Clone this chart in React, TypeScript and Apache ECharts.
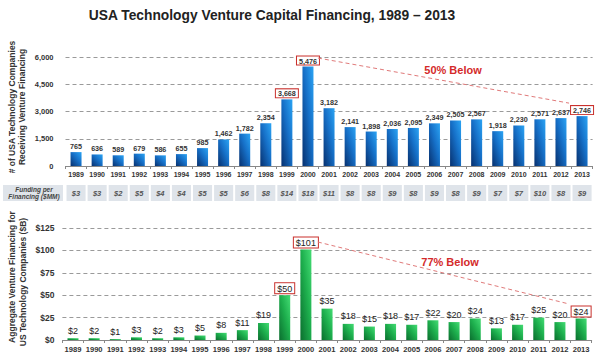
import React, { useEffect, useRef } from "react";
import * as echarts from "echarts";

const years = ["1989","1990","1991","1992","1993","1994","1995","1996","1997","1998","1999","2000","2001","2002","2003","2004","2005","2006","2007","2008","2009","2010","2011","2012","2013"];
const companies = [765,636,589,679,586,655,985,1462,1782,2354,3668,5476,3182,2141,1898,2036,2095,2349,2505,2567,1918,2230,2571,2637,2746];
const fundingPerFinancing = [3,3,2,5,4,4,5,5,6,8,14,18,11,8,8,9,8,9,8,9,7,7,10,8,9];
const aggregateFinancing = [2,2,1,3,2,3,5,8,11,19,50,101,35,18,15,18,17,22,20,24,13,17,25,20,24];
const highlighted = [10, 11, 24];
const topTicks = { min: 0, max: 6000, interval: 1500 };
const bottomTicks = { min: 0, max: 125, interval: 25 };

const FONT = "'Liberation Sans', Arial, sans-serif";
const RED = "#c9302c";

const boxLabel = {
  borderColor: RED,
  borderWidth: 1,
  padding: [1, 2, 0, 2],
  backgroundColor: "#fff",
};

export default function App() {
  const ref = useRef<HTMLDivElement>(null);
  useEffect(() => {
    if (!ref.current) return;
    const chart = echarts.init(ref.current, undefined, { renderer: "svg" });
    const blue = new echarts.graphic.LinearGradient(0, 1, 1, 0, [
      { offset: 0, color: "#07306e" },
      { offset: 0.55, color: "#1670c8" },
      { offset: 1, color: "#2ba4f4" },
    ]);
    const green = new echarts.graphic.LinearGradient(0, 1, 1, 0, [
      { offset: 0, color: "#0a6e2e" },
      { offset: 0.55, color: "#1eb04e" },
      { offset: 1, color: "#44dc74" },
    ]);
    const axisX = (gridIndex: number, fs: number) => ({
      type: "category",
      gridIndex,
      data: years,
      axisLine: { lineStyle: { color: "#888" } },
      axisTick: { show: true, length: 3, lineStyle: { color: "#888" } },
      axisLabel: { fontFamily: FONT, fontSize: fs, fontWeight: "bold", color: "#333", margin: 5, interval: 0 },
    });
    const gridLine = { show: true, lineStyle: { color: "#9a9a9a", type: [4, 3] } };
    chart.setOption({
      animation: false,
      backgroundColor: "#fff",
      grid: [
        { left: 65.5, right: 7.4, top: 57, height: 109 },
        { left: 62.4, right: 8.3, top: 228, height: 112 },
        { left: 65.5, right: 7.4, top: 185, height: 16 },
      ],
      xAxis: [
        axisX(0, 7),
        axisX(1, 7.6),
        { type: "category", gridIndex: 2, data: years, show: false },
      ],
      yAxis: [
        {
          type: "value", gridIndex: 0, ...topTicks,
          splitLine: gridLine,
          axisLine: { show: false }, axisTick: { show: false },
          axisLabel: { fontFamily: FONT, fontSize: 7.5, fontWeight: "bold", color: "#333", margin: 12,
            formatter: (v: number) => v.toLocaleString("en-US") },
        },
        {
          type: "value", gridIndex: 1, ...bottomTicks,
          splitLine: gridLine,
          axisLine: { show: false }, axisTick: { show: false },
          axisLabel: { fontFamily: FONT, fontSize: 8.5, fontWeight: "bold", color: "#333", margin: 8,
            formatter: (v: number) => "$" + v },
        },
        { type: "value", gridIndex: 2, min: 0, max: 1, show: false },
      ],
      series: [
        {
          type: "bar", xAxisIndex: 0, yAxisIndex: 0, barWidth: 11,
          itemStyle: { color: blue },
          label: { show: true, position: "top", distance: 2, fontFamily: FONT, fontSize: 7.2, fontWeight: "bold", color: "#333",
            formatter: (p: any) => Number(p.value).toLocaleString("en-US") },
          data: companies.map((v, i) => highlighted.includes(i) ? { value: v, label: boxLabel } : v),
        },
        {
          type: "bar", xAxisIndex: 1, yAxisIndex: 1, barWidth: 11,
          itemStyle: { color: green },
          label: { show: true, position: "top", distance: 3, fontFamily: FONT, fontSize: 9, color: "#222",
            formatter: (p: any) => "$" + p.value },
          data: aggregateFinancing.map((v, i) => highlighted.includes(i) ? { value: v, label: { ...boxLabel, distance: 2 } } : v),
        },
        {
          type: "custom", xAxisIndex: 2, yAxisIndex: 2,
          encode: { x: 0, y: 1 },
          data: fundingPerFinancing.map((v, i) => [i, v]),
          renderItem: (params: any, api: any) => {
            const idx = api.value(0);
            const v = api.value(1);
            const pt = api.coord([idx, 0]);
            const w = api.size([1, 0])[0];
            const cs = params.coordSys;
            return {
              type: "group",
              children: [
                { type: "rect", shape: { x: pt[0] - w / 2 + 1, y: cs.y, width: w - 2, height: cs.height }, style: { fill: "#dfe4ea" } },
                { type: "text", style: { text: "$" + v, x: pt[0], y: cs.y + cs.height / 2, align: "center", verticalAlign: "middle",
                  fontSize: 7.5, fontStyle: "italic", fontWeight: "bold", fill: "#555", fontFamily: FONT } },
              ],
            };
          },
        },
      ],
    });

    const t0 = chart.convertToPixel({ gridIndex: 0 }, [years[11], companies[11]]) as number[];
    const t1 = chart.convertToPixel({ gridIndex: 0 }, [years[24], companies[24]]) as number[];
    const b0 = chart.convertToPixel({ gridIndex: 1 }, [years[11], aggregateFinancing[11]]) as number[];
    const b1 = chart.convertToPixel({ gridIndex: 1 }, [years[24], aggregateFinancing[24]]) as number[];
    const dash = { stroke: "#e07a7a", lineWidth: 1, lineDash: [4, 3] };

    chart.setOption({
      graphic: [
        { type: "text", x: 272, y: 15, scaleX: 0.92, style: { text: "USA Technology Venture Capital Financing, 1989 \u2013 2013", fontFamily: FONT, fontSize: 15, fontWeight: "bold", fill: "#222", align: "center", verticalAlign: "middle" } },
        { type: "text", x: 12, y: 107, rotation: Math.PI / 2, style: { text: "# of USA Technology Companies", fontFamily: FONT, fontSize: 8.5, fontWeight: "bold", fill: "#333", align: "center", verticalAlign: "middle" } },
        { type: "text", x: 22, y: 107, rotation: Math.PI / 2, style: { text: "Receiving Venture Financing", fontFamily: FONT, fontSize: 8.5, fontWeight: "bold", fill: "#333", align: "center", verticalAlign: "middle" } },
        { type: "text", x: 12, y: 277, rotation: Math.PI / 2, style: { text: "Aggregate Venture Financing for", fontFamily: FONT, fontSize: 8.5, fontWeight: "bold", fill: "#333", align: "center", verticalAlign: "middle" } },
        { type: "text", x: 23, y: 282, rotation: Math.PI / 2, style: { text: "US Technology Companies ($B)", fontFamily: FONT, fontSize: 8.5, fontWeight: "bold", fill: "#333", align: "center", verticalAlign: "middle" } },
        { type: "rect", shape: { x: 3, y: 185, width: 60, height: 16 }, style: { fill: "#dfe4ea" } },
        { type: "text", x: 34, y: 193, style: { text: "Funding per\nFinancing ($MM)", fontFamily: FONT, fontSize: 6.5, fontStyle: "italic", fontWeight: "bold", fill: "#444", align: "center", verticalAlign: "middle", lineHeight: 7 } },
        { type: "line", z: 10, shape: { x1: t0[0] + 10, y1: t0[1] - 8.5, x2: t1[0] - 13, y2: t1[1] - 13 }, style: dash },
        { type: "line", z: 10, shape: { x1: b0[0] + 12, y1: b0[1] - 7.5, x2: b1[0] - 12, y2: b1[1] - 14.5 }, style: dash },
        { type: "text", x: 453, y: 70, style: { text: "50% Below", fontFamily: FONT, fontSize: 11, fontWeight: "bold", fill: "#d42a2a", align: "center", verticalAlign: "middle" } },
        { type: "text", x: 450, y: 262, style: { text: "77% Below", fontFamily: FONT, fontSize: 11, fontWeight: "bold", fill: "#d42a2a", align: "center", verticalAlign: "middle" } },
      ],
    });
    return () => chart.dispose();
  }, []);
  return <div ref={ref} style={{ position: "fixed", left: 0, top: 0, width: 600, height: 361 }} />;
}
